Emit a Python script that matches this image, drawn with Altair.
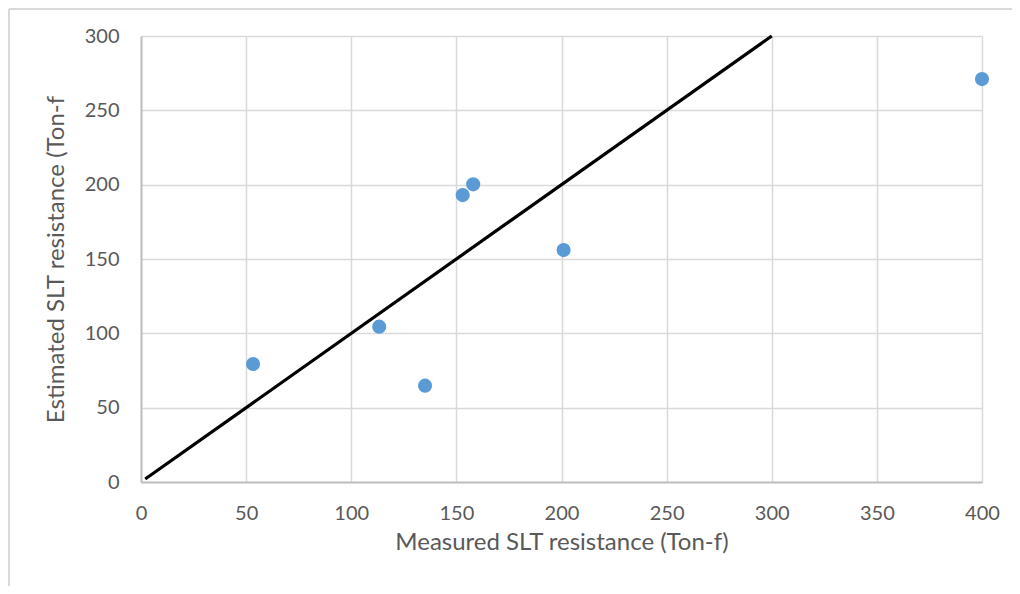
import altair as alt
import pandas as pd

measured = [53.3, 113.3, 135.1, 153, 158, 201, 400]
estimated = [79.4, 104.5, 64.8, 193, 200.2, 156, 271]
line_x = [2, 300]
line_y = [2, 300]

pts = pd.DataFrame({"m": measured, "e": estimated})
ln = pd.DataFrame({"m": line_x, "e": line_y})

FONT = "Lato"
W, H = 841, 446
PL, PT = 133, 28

xscale = alt.Scale(domain=[0, 400], nice=False, zero=False)
yscale = alt.Scale(domain=[0, 300], nice=False, zero=False)

xaxis = alt.Axis(values=[0, 50, 100, 150, 200, 250, 300, 350, 400], title="Measured SLT resistance (Ton-f)",
                 ticks=False, labelPadding=21, titlePadding=7, labelFlush=False)
yaxis = alt.Axis(values=[0, 50, 100, 150, 200, 250, 300], title="Estimated SLT resistance (Ton-f",
                 ticks=False, labelPadding=22, titlePadding=16)

line = alt.Chart(ln).mark_line(color="black", strokeWidth=3.2, clip=False).encode(
    x=alt.X("m:Q", scale=xscale, axis=xaxis),
    y=alt.Y("e:Q", scale=yscale, axis=yaxis),
)
points = alt.Chart(pts).mark_circle(size=200, color="#5B9BD5", opacity=1).encode(
    x=alt.X("m:Q", scale=xscale),
    y=alt.Y("e:Q", scale=yscale),
)

frame_left = alt.Chart(pts).mark_rule(color="#D9D9D9", strokeWidth=1.5).encode(
    x=alt.value(-PL + 1), y=alt.value(-PT + 1), y2=alt.value(H + 200)
)
frame_top = alt.Chart(pts).mark_rule(color="#D9D9D9", strokeWidth=1.5).encode(
    x=alt.value(-PL + 1), x2=alt.value(W + 200), y=alt.value(-PT + 1)
)

chart = alt.layer(frame_left, frame_top, line, points).properties(
    width=W, height=H,
    autosize=alt.AutoSizeParams(type="none"),
    padding={"left": PL, "top": PT, "right": 30, "bottom": 104},
).configure(background="white").configure_view(stroke=None).configure_axis(
    grid=True, gridColor="#D9D9D9", gridWidth=1.5,
    domainColor="#BFBFBF", domainWidth=2,
    labelFont=FONT, labelFontSize=20, labelColor="#595959",
    titleFont=FONT, titleFontSize=24, titleColor="#595959", titleFontWeight="normal",
)

chart.save("out.html", embed_options={"renderer": "svg", "actions": False})
